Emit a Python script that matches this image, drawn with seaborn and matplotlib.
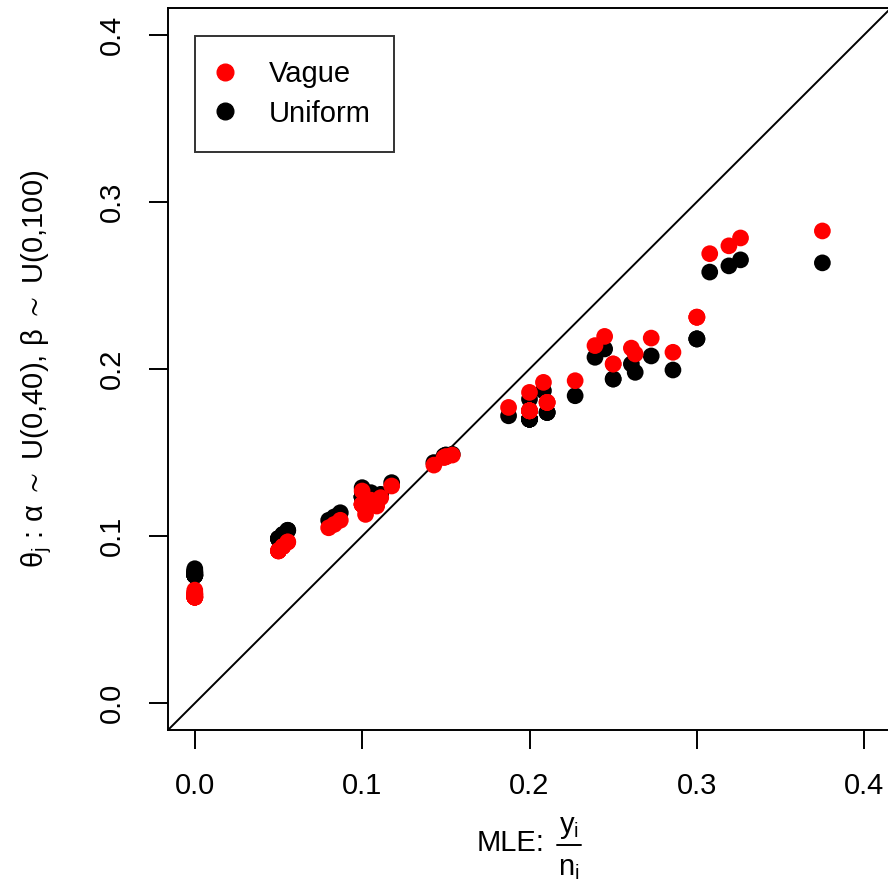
import numpy as np
import pandas as pd
import matplotlib
matplotlib.use('Agg')
import matplotlib.pyplot as plt
import seaborn as sns
from matplotlib.lines import Line2D

# tumour counts y / group sizes n for the 71 experiments
tumours = [0, 0, 0, 0, 0, 0, 0, 0, 0, 0, 0, 0, 0, 0, 1, 1, 1, 1, 1, 1, 1, 1,
           2, 2, 2, 2, 2, 2, 2, 2, 2, 1, 5, 2, 5, 3, 2, 7, 7, 3, 3, 2, 9, 10,
           4, 4, 4, 4, 4, 4, 4, 10, 4, 4, 4, 5, 11, 12, 5, 5, 6, 5, 6, 6, 6, 6,
           16, 15, 15, 9, 4]
rats = [20, 20, 20, 20, 20, 20, 20, 19, 19, 19, 19, 18, 18, 17, 20, 20, 20, 20,
        19, 19, 18, 18, 25, 24, 23, 20, 20, 20, 20, 20, 20, 10, 49, 19, 46, 27,
        17, 49, 47, 20, 20, 13, 48, 50, 20, 20, 20, 20, 20, 20, 20, 48, 19, 19,
        19, 22, 46, 49, 20, 20, 23, 19, 22, 20, 20, 20, 52, 47, 46, 24, 14]

# posterior means
theta_uniform = [0.0766] * 7 + [0.0780] * 4 + [0.0792] * 2 + [0.0805] + \
    [0.0985] * 4 + [0.1010] * 2 + [0.1035] * 2 + [0.1095, 0.1115, 0.1140] + \
    [0.1235] * 6 + [0.1290, 0.1165, 0.1260, 0.1210, 0.1250, 0.1320,
                    0.1440, 0.1480, 0.1485, 0.1485, 0.1490, 0.1720, 0.1820] + \
    [0.1700] * 7 + [0.1870] + [0.1740] * 3 + [0.1840, 0.2070, 0.2120] + \
    [0.1940] * 2 + [0.2030, 0.1980, 0.2078] + [0.2180] * 3 + \
    [0.2580, 0.2617, 0.2653, 0.2635, 0.1994]
theta_vague = [0.0635] * 7 + [0.0650] * 4 + [0.0662] * 2 + [0.0677] + \
    [0.0912] * 4 + [0.0938] * 2 + [0.0965] * 2 + [0.1050, 0.1070, 0.1095] + \
    [0.1190] * 6 + [0.1270, 0.1130, 0.1215, 0.1180, 0.1230, 0.1300,
                    0.1425, 0.1470, 0.1475, 0.1475, 0.1485, 0.1770, 0.1860] + \
    [0.1750] * 7 + [0.1920] + [0.1800] * 3 + [0.1930, 0.2140, 0.2195] + \
    [0.2030] * 2 + [0.2125, 0.2090, 0.2185] + [0.2310] * 3 + \
    [0.2690, 0.2737, 0.2784, 0.2826, 0.2100]

mle = np.array(tumours) / np.array(rats)

df = pd.concat([
    pd.DataFrame({'mle': mle, 'theta': theta_uniform, 'prior': 'Uniform'}),
    pd.DataFrame({'mle': mle, 'theta': theta_vague, 'prior': 'Vague'}),
], ignore_index=True)

sns.set_style('white')
plt.rcParams['font.family'] = ['Liberation Sans', 'DejaVu Sans']
plt.rcParams['text.color'] = 'black'
plt.rcParams['axes.labelcolor'] = 'black'
plt.rcParams['xtick.color'] = 'black'
plt.rcParams['ytick.color'] = 'black'
plt.rcParams['mathtext.fontset'] = 'custom'
plt.rcParams['mathtext.rm'] = 'Liberation Sans'
plt.rcParams['mathtext.it'] = 'Liberation Sans'
plt.rcParams['mathtext.default'] = 'regular'

W, H = 888, 884
fig = plt.figure(figsize=(W / 100, H / 100), dpi=100)
ax = fig.add_axes([168 / W, 1 - 730 / H, 723 / W, 722 / H])

palette = {'Uniform': 'black', 'Vague': 'red'}
sns.scatterplot(data=df, x='mle', y='theta', hue='prior', palette=palette,
                s=145, linewidth=0, legend=False, ax=ax, zorder=3)
ax.axline((0, 0), slope=1, color='black', lw=1.4, zorder=2)

ax.set_xlim(-0.016, 0.416)
ax.set_ylim(-0.016, 0.416)
ticks = [0.0, 0.1, 0.2, 0.3, 0.4]
ax.set_xticks(ticks)
ax.set_yticks(ticks)
ax.set_xticklabels([f'{t:.1f}' for t in ticks])
ax.set_yticklabels([f'{t:.1f}' for t in ticks], rotation=90, va='center')
ax.tick_params(axis='both', length=14, width=1.4, colors='black',
               labelsize=21, direction='out', pad=16, bottom=True, left=True)
for sp in ax.spines.values():
    sp.set_color('black')
    sp.set_linewidth(1.4)

# x label: "MLE:" followed by a full-size fraction y_i / n_i
ax.set_xlabel('')
fig.text(477 / W, 1 - 843 / H, 'MLE:', fontsize=21, ha='left', va='center')
fig.add_artist(Line2D([557 / W, 581 / W], [1 - 845 / H, 1 - 845 / H],
                      color='black', lw=1.4))
fig.text(569 / W, 1 - 833 / H, r'$y_i$', fontsize=21, ha='center',
         va='baseline')
fig.text(569 / W, 1 - 875 / H, r'$n_i$', fontsize=21, ha='center',
         va='baseline')

ax.set_ylabel(r'$\theta_j$ : $\alpha\ \sim\ U(0{,}40)$, '
              r'$\beta\ \sim\ U(0{,}100)$', fontsize=21)
ax.yaxis.set_label_coords(-0.158, 0.5)

handles = [Line2D([], [], marker='o', ls='', color='red', markersize=12),
           Line2D([], [], marker='o', ls='', color='black', markersize=12)]
leg = ax.legend(handles, ['Vague', 'Uniform'], loc='upper left',
                bbox_to_anchor=(27 / 723, 1 - 28 / 722), fontsize=21,
                frameon=True, fancybox=False, borderpad=0.82,
                handlelength=0.4, handletextpad=1.3, labelspacing=0.4,
                borderaxespad=0)
leg.get_frame().set_edgecolor('black')
leg.get_frame().set_linewidth(1.4)

fig.savefig('out.png', dpi=100)
